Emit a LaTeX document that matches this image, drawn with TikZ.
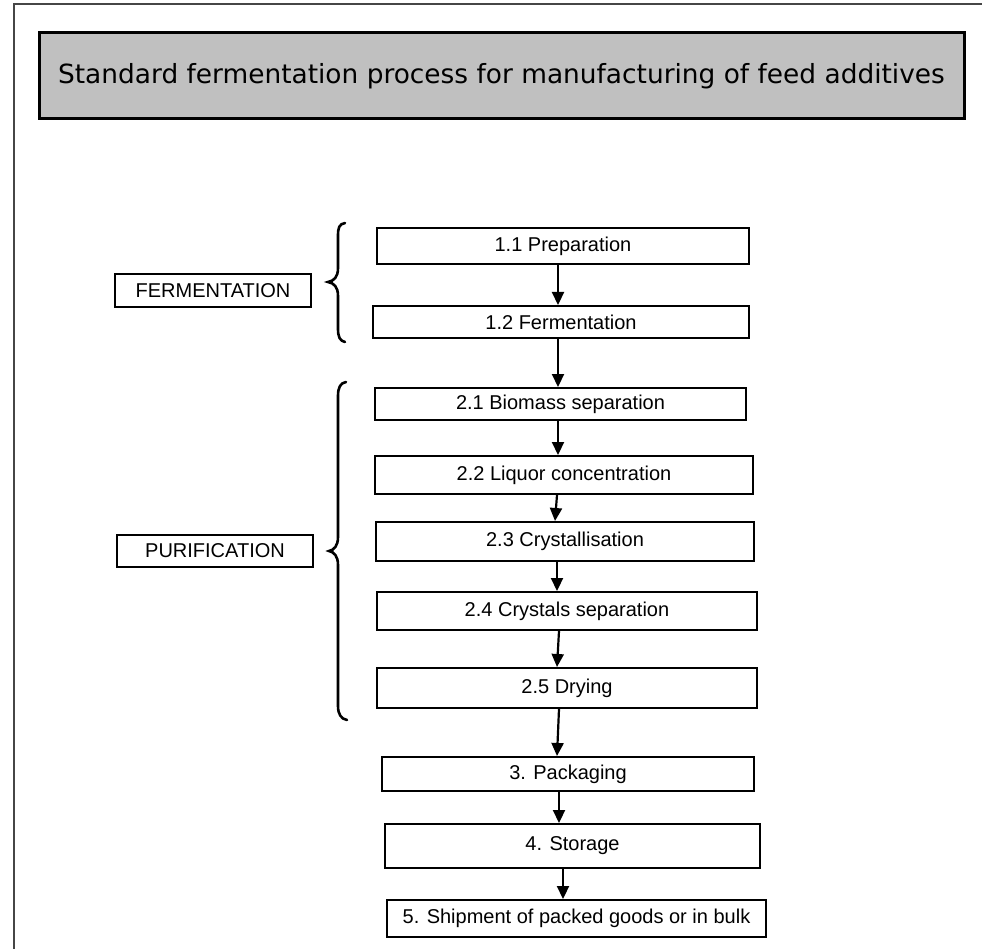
\documentclass[tikz,border=0pt]{standalone}
\usepackage{fontspec}
\setmainfont{Liberation Sans}
\newfontfamily\titlefont{DejaVu Sans}
\usetikzlibrary{arrows.meta}
\definecolor{titlegray}{RGB}{192,192,192}
\definecolor{framegray}{RGB}{70,70,70}
\begin{document}
\begin{tikzpicture}[x=1pt,y=-1pt,
  stepbox/.style={draw=black, line width=2pt, fill=white, inner sep=0pt,
    font=\fontsize{20}{24}\selectfont},
  phasebox/.style={stepbox},
  titlebox/.style={draw=black, line width=3pt, fill=titlegray, inner sep=0pt,
    font=\titlefont\fontsize{26.4}{30}\selectfont},
  flow/.style={line width=2.2pt, -{Triangle[length=13pt,width=12pt]}},
  curly/.style={line width=2.6pt, line cap=round},
]
\useasboundingbox (0,0) rectangle (982,949);

% page frame (top and left edges)
\draw[line width=2pt, draw=framegray] (982,4) -- (14,4) -- (14,949);

% heading
\node[titlebox, minimum width=925pt, minimum height=86pt] (title) at (501.5,76)
  {Standard fermentation process for manufacturing of feed additives};

% phase labels
\node[phasebox, minimum width=196pt, minimum height=33pt] (ferm) at (213,290.5) {FERMENTATION};
\node[phasebox, minimum width=196pt, minimum height=32pt] (puri) at (215,551) {PURIFICATION};

% process steps
\node[stepbox, minimum width=372pt, minimum height=36pt] (p11) at (563,246)   {1.1 Preparation};
\node[stepbox, minimum width=376pt, minimum height=32pt] (p12) at (561,322)   {1.2 Fermentation};
\node[stepbox, minimum width=371pt, minimum height=32pt] (p21) at (560.5,404) {2.1 Biomass separation};
\node[stepbox, minimum width=378pt, minimum height=38pt] (p22) at (564,475)   {2.2 Liquor concentration};
\node[stepbox, minimum width=378pt, minimum height=39pt] (p23) at (565,541.5) {2.3 Crystallisation};
\node[stepbox, minimum width=380pt, minimum height=38pt] (p24) at (567,611)   {2.4 Crystals separation};
\node[stepbox, minimum width=380pt, minimum height=40pt] (p25) at (567,688)   {2.5 Drying};
\node[stepbox, minimum width=372pt, minimum height=34pt] (p3)  at (568,774)   {3. Packaging};
\node[stepbox, minimum width=375pt, minimum height=44pt] (p4)  at (572.5,846) {4. Storage};
\node[stepbox, minimum width=379pt, minimum height=37pt] (p5)  at (576.5,918.5) {5. Shipment of packed goods or in bulk};

% flow arrows
\draw[flow] ([xshift=-5pt]p11.south)   -- ([xshift=-3pt]p12.north);
\draw[flow] ([xshift=-3pt]p12.south)   -- ([xshift=-2.5pt]p21.north);
\draw[flow] ([xshift=-2.5pt]p21.south) -- ([xshift=-6pt]p22.north);
\draw[flow] ([xshift=-7pt]p22.south)   -- ([xshift=-10pt]p23.north);
\draw[flow] ([xshift=-8pt]p23.south)   -- ([xshift=-10pt]p24.north);
\draw[flow] ([xshift=-8pt]p24.south)   -- ([xshift=-10pt]p25.north);
\draw[flow] ([xshift=-8pt]p25.south)   -- ([xshift=-11pt]p3.north);
\draw[flow] ([xshift=-9pt]p3.south)    -- ([xshift=-13.5pt]p4.north);
\draw[flow] ([xshift=-9.5pt]p4.south)  -- ([xshift=-13.5pt]p5.north);

% curly braces grouping the steps of each phase
\draw[curly] (345,223) .. controls (339,224) and (338,228) .. (338,236)
  -- (338,268) .. controls (338,277) and (334,281) .. (328,282)
  .. controls (334,283) and (338,287) .. (338,296)
  -- (338,329) .. controls (338,337) and (340,341) .. (345,342);
\draw[curly] (346,382) .. controls (340,383) and (338,388) .. (338,396)
  -- (338,537) .. controls (338,546) and (334,550) .. (329,551)
  .. controls (334,552) and (338,556) .. (338,565)
  -- (338,706) .. controls (338,714) and (341,719) .. (347,720);
\end{tikzpicture}
\end{document}
